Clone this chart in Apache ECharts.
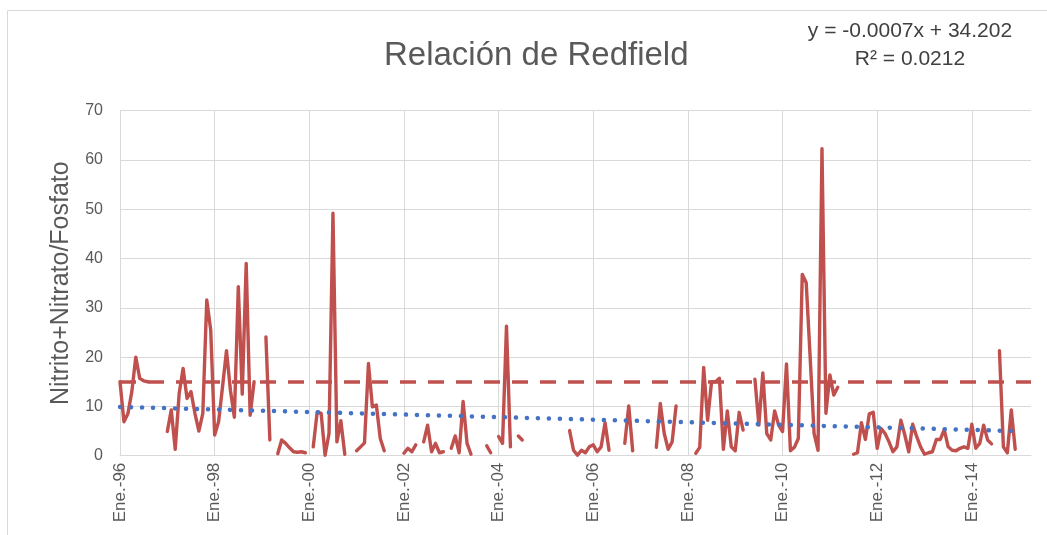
<!DOCTYPE html>
<html>
<head>
<meta charset="utf-8">
<script src="https://cdn.jsdelivr.net/npm/echarts@6/dist/echarts.min.js"></script>
<style>
html,body{margin:0;padding:0;background:#ffffff;}
#chart{width:1047px;height:535px;}
</style>
</head>
<body>
<div id="chart"></div>
<script>
// ---- data ----
const MONTH_ABBR = ['Ene.','Feb.','Mar.','Abr.','May.','Jun.','Jul.','Ago.','Sep.','Oct.','Nov.','Dic.'];
const FIRST_YEAR = 1996;
const MONTH_COUNT = 232;               // Ene.-96 ... Abr.-15
const TICK_LABELS = ['Ene.-96','Ene.-98','Ene.-00','Ene.-02','Ene.-04','Ene.-06','Ene.-08','Ene.-10','Ene.-12','Ene.-14'];
const Y_MIN = 0, Y_MAX = 70, Y_STEP = 10;

// Nitrito+Nitrato/Fosfato, one value per month (null = no sample)
const ratio1996 = [15, 6.9, 8.5, 13, 20, 15.7, 15.2, 15, null, null, null, null];
const ratio1997 = [4.9, 9.3, 1.3, 12.6, 17.7, 11.6, 13, 8.6, 5, 8.6, 31.6, 25.5];
const ratio1998 = [4.2, 6.9, 14, 21.3, 13.3, 7.8, 34.3, 12.5, 39, 8.2, 15, null];
const ratio1999 = [null, 24.1, 3.2, null, 0.4, 3.2, 2.5, 1.6, 0.8, 0.7, 0.8, 0.6];
const ratio2000 = [null, 1.8, 8.9, 8.6, 0.1, 4.5, 49.2, 2.8, 7.1, 0.3, null, null];
const ratio2001 = [1, 1.8, 2.6, 18.7, 9.9, 10.3, 3.5, 1.0, null, null, null, null];
const ratio2002 = [0.5, 1.5, 0.8, 2.2, null, 2.8, 6.2, 0.8, 2.5, 0.6, 0.8, null];
const ratio2003 = [1.5, 4, 0.6, 11, 2.5, 0.3, null, null, null, 2.0, 0.6, null];
const ratio2004 = [3.9, 2.5, 26.3, 1.8, null, 4, 3.2, null, null, null, null, null];
const ratio2005 = [null, null, null, null, null, null, 5.1, 1.1, 0.1, 1.1, 0.6, 1.8];
const ratio2006 = [2.2, 0.8, 1.8, 6.7, 1.1, null, null, null, 2.5, 10.1, 1.0, null];
const ratio2007 = [null, null, null, null, 1.7, 10.6, 4.5, 1.3, 2.8, 10.1, null, null];
const ratio2008 = [null, null, 0.5, 1.7, 17.9, 7.2, 15, 15, 15.7, 1.3, 9.1, 1.8];
const ratio2009 = [1.0, 8.8, 5.2, null, null, 15.5, 6.2, 16.8, 4.5, 3.2, 9.1, 6.2];
const ratio2010 = [4.9, 18.6, 1.0, 1.7, 3.5, 36.8, 35.1, 20, 4.5, 1.1, 62.3, 8.6];
const ratio2011 = [16.4, 12.3, 13.9, null, null, null, 0.3, 0.6, 6.7, 3.3, 8.5, 8.8];
const ratio2012 = [1.5, 5.5, 4.5, 2.8, 0.8, 1.8, 7.2, 4.2, 0.8, 6.4, 3.9, 1.8];
const ratio2013 = [0.3, 0.6, 0.8, 3.3, 3.3, 5.3, 1.8, 1.1, 1.0, 1.5, 1.8, 1.5];
const ratio2014 = [6.4, 1.5, 2.5, 6.2, 3.2, 2.4, null, 21.3, 1.8, 0.6, 9.3, 1.3];
const ratio2015 = [null, null, null, null];

const REDFIELD_LEVEL = 15;             // dashed reference line
const TREND_START_VALUE = 9.9;         // dotted linear trend, read at both ends
const TREND_END_VALUE = 5.0;
const TREND_END_INDEX = 227;
const EQUATION_TEXT = 'y = -0.0007x + 34.202';
const R2_TEXT = 'R\u00B2 = 0.0212';
const TITLE_TEXT = 'Relación de Redfield';
const Y_NAME = 'Nitrito+Nitrato/Fosfato';

// ---- build ----
const categories = [];
for (let i = 0; i < MONTH_COUNT; i++) {
  const yr = FIRST_YEAR + Math.floor(i / 12);
  categories.push(MONTH_ABBR[i % 12] + '-' + String(yr).slice(2));
}
const ratio = [].concat(ratio1996, ratio1997, ratio1998, ratio1999, ratio2000, ratio2001,
  ratio2002, ratio2003, ratio2004, ratio2005, ratio2006, ratio2007, ratio2008, ratio2009,
  ratio2010, ratio2011, ratio2012, ratio2013, ratio2014, ratio2015);

// trend line: only its two read end points, joined by the line series
const trend = new Array(MONTH_COUNT).fill(null);
trend[0] = TREND_START_VALUE;
trend[TREND_END_INDEX] = TREND_END_VALUE;

const FONT = "'Liberation Sans', Arial, sans-serif";
const TXT = '#595959';
const GRID = '#D9D9D9';
const RED = '#C0504D';
const BLUE = '#4472C4';

const chart = echarts.init(document.getElementById('chart'), null, {renderer: 'canvas'});
chart.setOption({
  animation: false,
  backgroundColor: '#ffffff',
  title: {
    text: TITLE_TEXT,
    left: 379, top: 34,
    textStyle: {fontFamily: FONT, fontSize: 33, fontWeight: 'normal', color: TXT}
  },
  graphic: [
    {type: 'rect', shape: {x: 7.5, y: 10.5, width: 1100, height: 600},
     style: {fill: null, stroke: GRID, lineWidth: 1}, silent: true, z: -10},
    {type: 'text', x: 910, y: 21, style: {text: EQUATION_TEXT, fontFamily: FONT, fontSize: 21,
      fill: '#404040', textAlign: 'center', textVerticalAlign: 'top'}},
    {type: 'text', x: 910, y: 49, style: {text: R2_TEXT, fontFamily: FONT, fontSize: 21,
      fill: '#404040', textAlign: 'center', textVerticalAlign: 'top'}}
  ],
  grid: {left: 120, right: 16, top: 110.7, bottom: 79.3, containLabel: false},
  xAxis: {
    type: 'category',
    data: categories,
    boundaryGap: false,
    axisLine: {show: true, lineStyle: {color: GRID, width: 1}},
    axisTick: {show: false},
    axisLabel: {
      interval: 23, rotate: 90, margin: 7,
      fontFamily: FONT, fontSize: 17, color: TXT,
      formatter: v => (TICK_LABELS.indexOf(v) >= 0 ? v : '')
    },
    splitLine: {show: true, interval: 23, lineStyle: {color: GRID, width: 1}}
  },
  yAxis: {
    type: 'value',
    min: Y_MIN, max: Y_MAX, interval: Y_STEP,
    name: Y_NAME, nameLocation: 'middle', nameRotate: 90, nameGap: 46,
    nameTextStyle: {fontFamily: FONT, fontSize: 25, color: TXT},
    axisLine: {show: false},
    axisTick: {show: false},
    axisLabel: {fontFamily: FONT, fontSize: 16, color: TXT, margin: 17},
    splitLine: {show: true, lineStyle: {color: GRID, width: 1}}
  },
  series: [
    {
      name: 'Relación N/P',
      type: 'line',
      data: ratio,
      connectNulls: false,
      showSymbol: false,
      symbol: 'none',
      lineStyle: {color: RED, width: 3.4, join: 'round', cap: 'round'},
      z: 3
    },
    {
      name: 'Redfield',
      type: 'line',
      data: [],
      markLine: {
        silent: true, symbol: ['none', 'none'], label: {show: false},
        lineStyle: {color: RED, width: 3.5, type: [16, 12], cap: 'butt'},
        data: [{yAxis: REDFIELD_LEVEL}]
      },
      z: 4
    },
    {
      name: 'Tendencia',
      type: 'line',
      data: trend,
      connectNulls: true,
      showSymbol: false,
      symbol: 'none',
      lineStyle: {color: BLUE, width: 4.5, type: [0.1, 10.9], cap: 'round'},
      z: 5
    }
  ]
});
</script>
</body>
</html>
